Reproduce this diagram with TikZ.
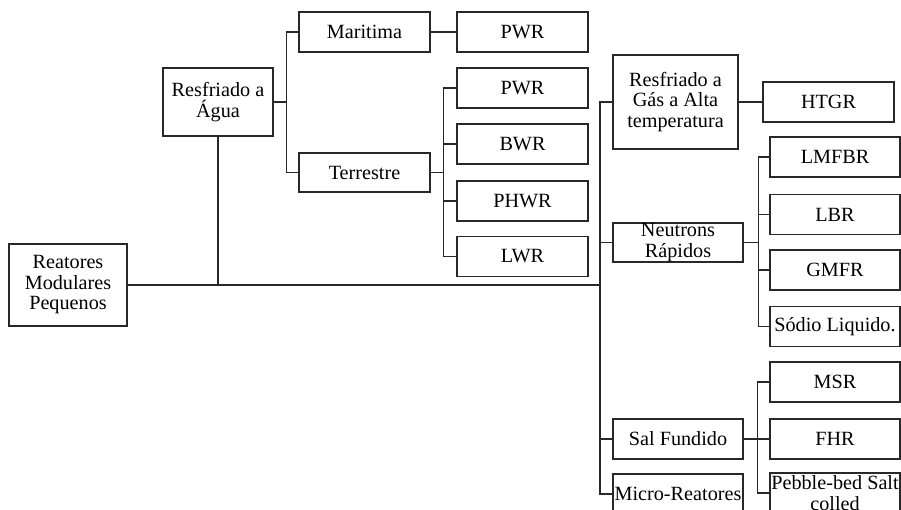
\documentclass[tikz,border=0pt]{standalone}
\usepackage{fontspec}
\setmainfont{Liberation Serif}
\usepackage{tikz}
\usetikzlibrary{calc, positioning}
\definecolor{linha}{RGB}{40,40,40}

\begin{document}
\begin{tikzpicture}[x=1pt, y=-1pt, font=\fontsize{20.2}{20.5}\selectfont,
    caixa/.style={draw=linha, line width=1.1pt, inner sep=0pt, align=center,
                  minimum width=131pt, minimum height=40pt},
    liga/.style={draw=linha, line width=1.2pt},
    tronco/.style={draw=linha, line width=2pt}]
  \useasboundingbox (0,0) rectangle (901,510);
  \clip (0,0) rectangle (901,510);

  % root and first level
  \node[caixa, minimum width=118pt, minimum height=82pt] (rmp) at (68,285) {Reatores\\Modulares\\Pequenos};
  \node[caixa, minimum width=110pt, minimum height=68pt] (agua) at (218,102) {Resfriado a\\Água};
  \node[caixa, minimum width=125pt, minimum height=94pt] (gas) at (675.5,102) {Resfriado a\\Gás a Alta\\temperatura};
  \node[caixa, minimum width=130pt, minimum height=39pt] (neu) at (678,242.5) {Neutrons\\Rápidos};
  \node[caixa, minimum width=130pt] (sal) at (678,439) {Sal Fundido};
  \node[caixa, minimum width=130pt] (micro) at (678,494) {Micro-Reatores};

  % water cooled branch
  \node[caixa] (mar) at (364.5,32) {Maritima};
  \node[caixa, minimum height=39pt] (ter) at (364.5,172.5) {Terrestre};
  \node[caixa] (pwrm) at (522.5,32) {PWR};
  \foreach \y/\nome/\txt in {88/pwrt/PWR, 144/bwr/BWR, 201/phwr/PHWR, 256.5/lwr/LWR}
    \node[caixa] (\nome) at (522.5,\y) {\txt};

  % gas, fast and salt branches
  \node[caixa] (htgr) at (828.5,102) {HTGR};
  \foreach \y/\nome/\txt in {157/lmfbr/LMFBR, 214.5/lbr/LBR, 270/gmfr/GMFR, 326.5/sodio/Sódio Liquido.}
    \node[caixa, minimum width=130pt] (\nome) at (835,\y) {\txt};
  \foreach \y/\nome/\txt in {382/msr/MSR, 439/fhr/FHR, 493/pebble/{Pebble-bed Salt\\colled}}
    \node[caixa, minimum width=130pt] (\nome) at (835,\y) {\txt};

  % connectors
  \coordinate (t) at (600,285);
  \draw[tronco] (rmp.east) -- (t);
  \draw[liga] (agua.south) -- (agua.south |- t);
  \foreach \n in {gas, neu, sal, micro}
    \draw[liga] (t) |- (\n.west);
  \foreach \n in {mar, ter}
    \draw[liga] (agua.east) -- ++(13,0) |- (\n.west);
  \draw[liga] (mar.east) -- (pwrm.west);
  \foreach \n in {pwrt, bwr, phwr, lwr}
    \draw[liga] (ter.east) -- ++(13,0) |- (\n.west);
  \draw[liga] (gas.east) -- (htgr.west);
  \foreach \n in {lmfbr, lbr, gmfr, sodio}
    \draw[liga] (neu.east) -- ++(15,0) |- (\n.west);
  \foreach \n in {msr, fhr, pebble}
    \draw[liga] (sal.east) -- ++(14,0) |- (\n.west);
\end{tikzpicture}
\end{document}
